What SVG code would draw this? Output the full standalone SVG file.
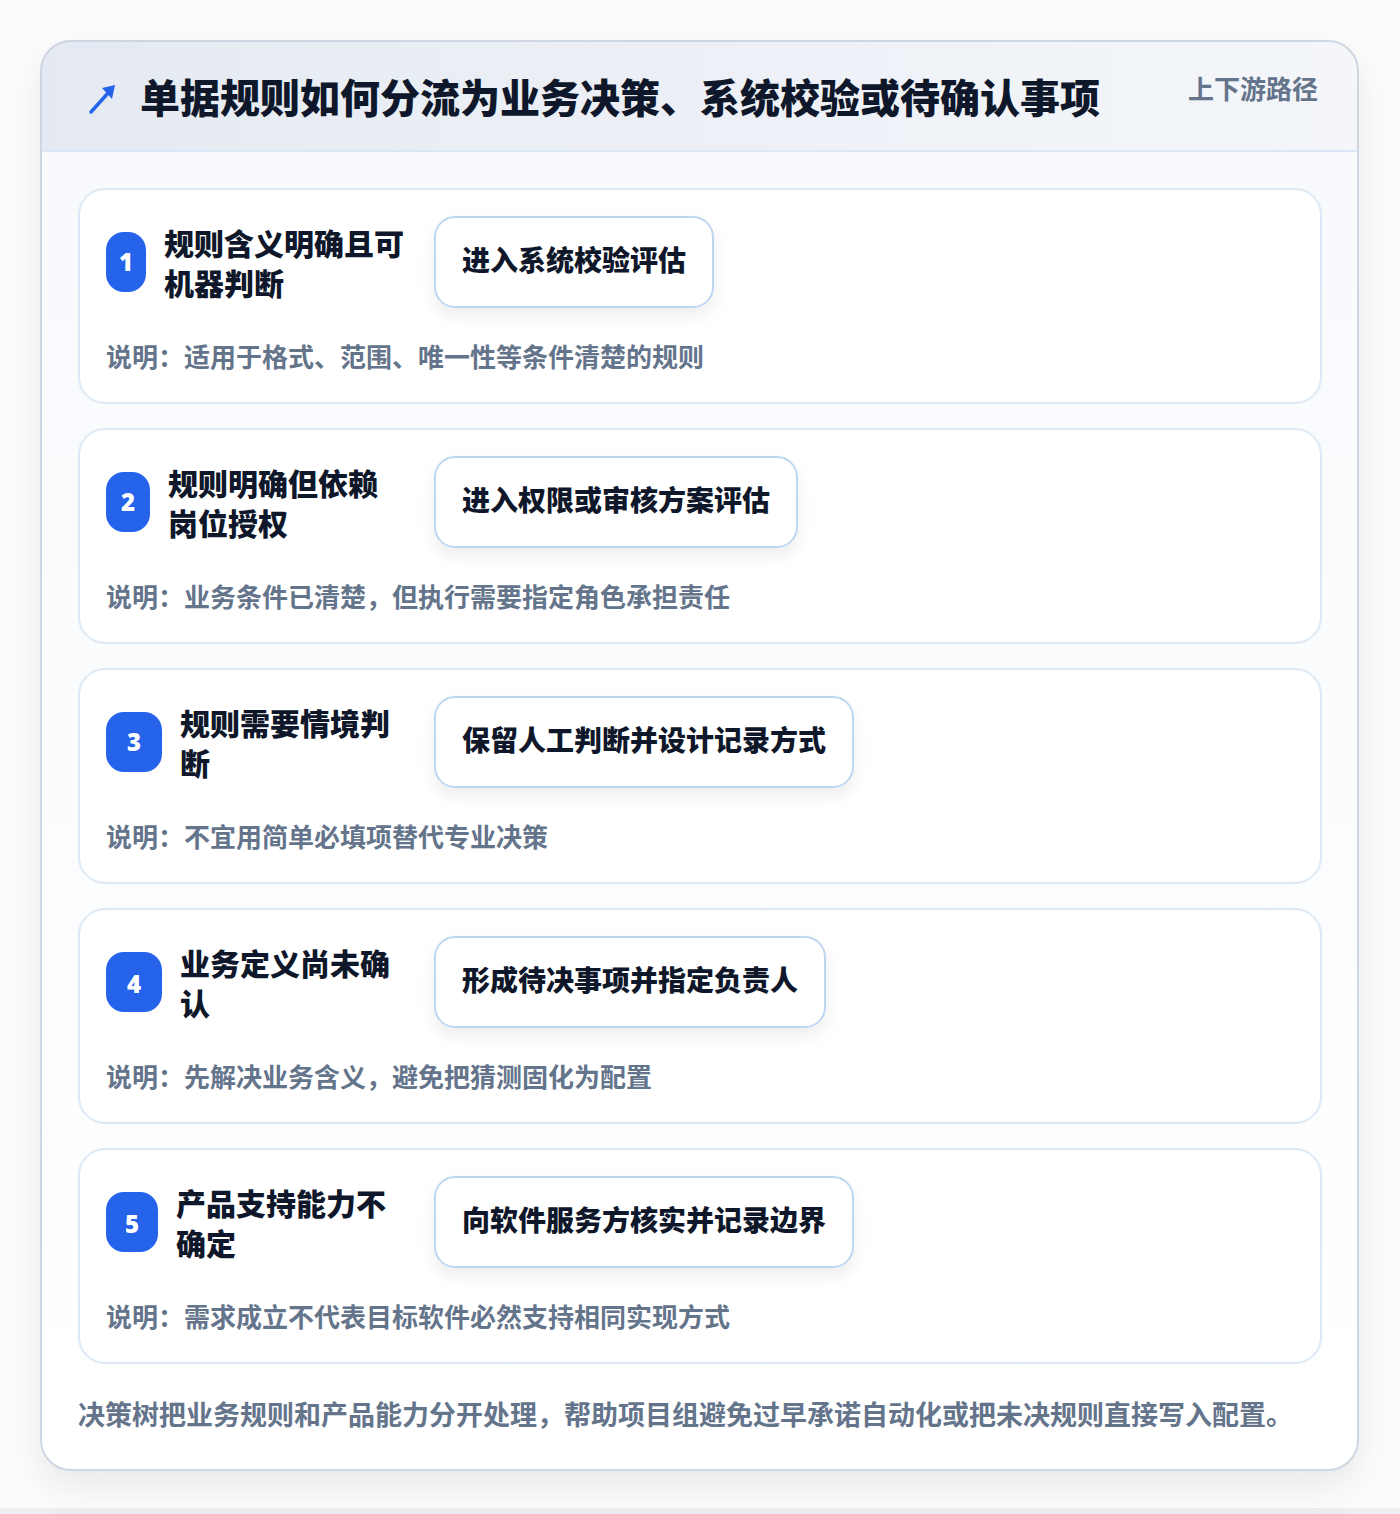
<svg xmlns="http://www.w3.org/2000/svg" width="1400" height="1514" viewBox="0 0 1400 1514">
<defs>
<linearGradient id="hdr" x1="0" y1="0" x2="1" y2="0">
<stop offset="0" stop-color="#e5eaf2"/>
<stop offset="1" stop-color="#f4f6fa"/>
</linearGradient>
<linearGradient id="body" x1="0" y1="0" x2="0" y2="1">
<stop offset="0" stop-color="#f7f9fc"/>
<stop offset="1" stop-color="#ffffff"/>
</linearGradient>
<filter id="cardShadow" x="-10%" y="-10%" width="120%" height="120%">
<feDropShadow dx="0" dy="16" stdDeviation="18" flood-color="#0f172a" flood-opacity="0.08"/>
</filter>
<filter id="boxShadow" x="-20%" y="-30%" width="140%" height="180%">
<feDropShadow dx="0" dy="8" stdDeviation="8" flood-color="#0f172a" flood-opacity="0.07"/>
</filter>
<clipPath id="cardClip"><rect x="41" y="41" width="1317" height="1429" rx="30"/></clipPath>
</defs>
<style>
text{font-family:"Noto Sans CJK SC","Noto Sans",sans-serif;font-weight:700}
.title{font-size:40px;fill:#0f172a;font-weight:900}
.tag{font-size:26px;fill:#64748b}
.row{fill:#ffffff;stroke:#dce8f6;stroke-width:2}
.badge{fill:#2563eb}
.num{font-family:"Noto Sans","DejaVu Sans",sans-serif;font-size:24px;fill:#ffffff;text-anchor:middle;font-weight:900}
.label{font-size:30px;fill:#0f172a;font-weight:800}
.act{fill:#ffffff;stroke:#bfd6f2;stroke-width:2}
.acttxt{font-size:28px;fill:#0f172a;font-weight:800}
.desc{font-size:26px;fill:#64748b}
.foot{font-size:27px;fill:#64748b}
</style>
<rect x="0" y="0" width="1400" height="1514" fill="#fcfcfd"/>
<rect x="0" y="1508" width="1400" height="6" fill="#eceef2"/>
<g id="card">
<rect x="41" y="41" width="1317" height="1429" rx="30" fill="url(#body)" filter="url(#cardShadow)"/>
<g clip-path="url(#cardClip)">
<rect x="41" y="41" width="1317" height="110" fill="url(#hdr)"/>
<line x1="41" y1="151" x2="1358" y2="151" stroke="#dbe7f5" stroke-width="2"/>
</g>
<rect x="41" y="41" width="1317" height="1429" rx="30" fill="none" stroke="#cdd6e3" stroke-width="2"/>
</g>
<g id="header">
<g id="icon">
<line x1="91" y1="112" x2="109" y2="92" stroke="#2563eb" stroke-width="3.5" stroke-linecap="round"/>
<polygon points="102,88 115,85 112,99" fill="#2563eb"/>
</g>
<text class="title" x="140" y="113">单据规则如何分流为业务决策、系统校验或待确认事项</text>
<text class="tag" x="1188" y="99">上下游路径</text>
</g>
<g id="connectors"/>
<g id="step1">
<rect class="row" x="79" y="189" width="1242" height="214" rx="26"/>
<rect class="badge" x="106" y="232" width="40" height="60" rx="18"/>
<text class="num" x="126" y="271">1</text>
<text class="label" x="164" y="255">规则含义明确且可</text>
<text class="label" x="164" y="295">机器判断</text>
<rect class="act" x="435" y="217" width="278" height="90" rx="20" filter="url(#boxShadow)"/>
<text class="acttxt" x="462" y="271">进入系统校验评估</text>
<text class="desc" x="106" y="367">说明：适用于格式、范围、唯一性等条件清楚的规则</text>
</g>
<g id="step2">
<rect class="row" x="79" y="429" width="1242" height="214" rx="26"/>
<rect class="badge" x="106" y="472" width="44" height="60" rx="18"/>
<text class="num" x="128" y="511">2</text>
<text class="label" x="168" y="495">规则明确但依赖</text>
<text class="label" x="168" y="535">岗位授权</text>
<rect class="act" x="435" y="457" width="362" height="90" rx="20" filter="url(#boxShadow)"/>
<text class="acttxt" x="462" y="511">进入权限或审核方案评估</text>
<text class="desc" x="106" y="607">说明：业务条件已清楚，但执行需要指定角色承担责任</text>
</g>
<g id="step3">
<rect class="row" x="79" y="669" width="1242" height="214" rx="26"/>
<rect class="badge" x="106" y="712" width="56" height="60" rx="18"/>
<text class="num" x="134" y="751">3</text>
<text class="label" x="180" y="735">规则需要情境判</text>
<text class="label" x="180" y="775">断</text>
<rect class="act" x="435" y="697" width="418" height="90" rx="20" filter="url(#boxShadow)"/>
<text class="acttxt" x="462" y="751">保留人工判断并设计记录方式</text>
<text class="desc" x="106" y="847">说明：不宜用简单必填项替代专业决策</text>
</g>
<g id="step4">
<rect class="row" x="79" y="909" width="1242" height="214" rx="26"/>
<rect class="badge" x="106" y="952" width="56" height="60" rx="18"/>
<text class="num" x="134" y="993">4</text>
<text class="label" x="180" y="975">业务定义尚未确</text>
<text class="label" x="180" y="1015">认</text>
<rect class="act" x="435" y="937" width="390" height="90" rx="20" filter="url(#boxShadow)"/>
<text class="acttxt" x="462" y="991">形成待决事项并指定负责人</text>
<text class="desc" x="106" y="1087">说明：先解决业务含义，避免把猜测固化为配置</text>
</g>
<g id="step5">
<rect class="row" x="79" y="1149" width="1242" height="214" rx="26"/>
<rect class="badge" x="106" y="1192" width="52" height="60" rx="18"/>
<text class="num" x="132" y="1233">5</text>
<text class="label" x="176" y="1215">产品支持能力不</text>
<text class="label" x="176" y="1255">确定</text>
<rect class="act" x="435" y="1177" width="418" height="90" rx="20" filter="url(#boxShadow)"/>
<text class="acttxt" x="462" y="1231">向软件服务方核实并记录边界</text>
<text class="desc" x="106" y="1327">说明：需求成立不代表目标软件必然支持相同实现方式</text>
</g>
<g id="footer">
<text class="foot" x="78" y="1425">决策树把业务规则和产品能力分开处理，帮助项目组避免过早承诺自动化或把未决规则直接写入配置。</text>
</g>
</svg>
